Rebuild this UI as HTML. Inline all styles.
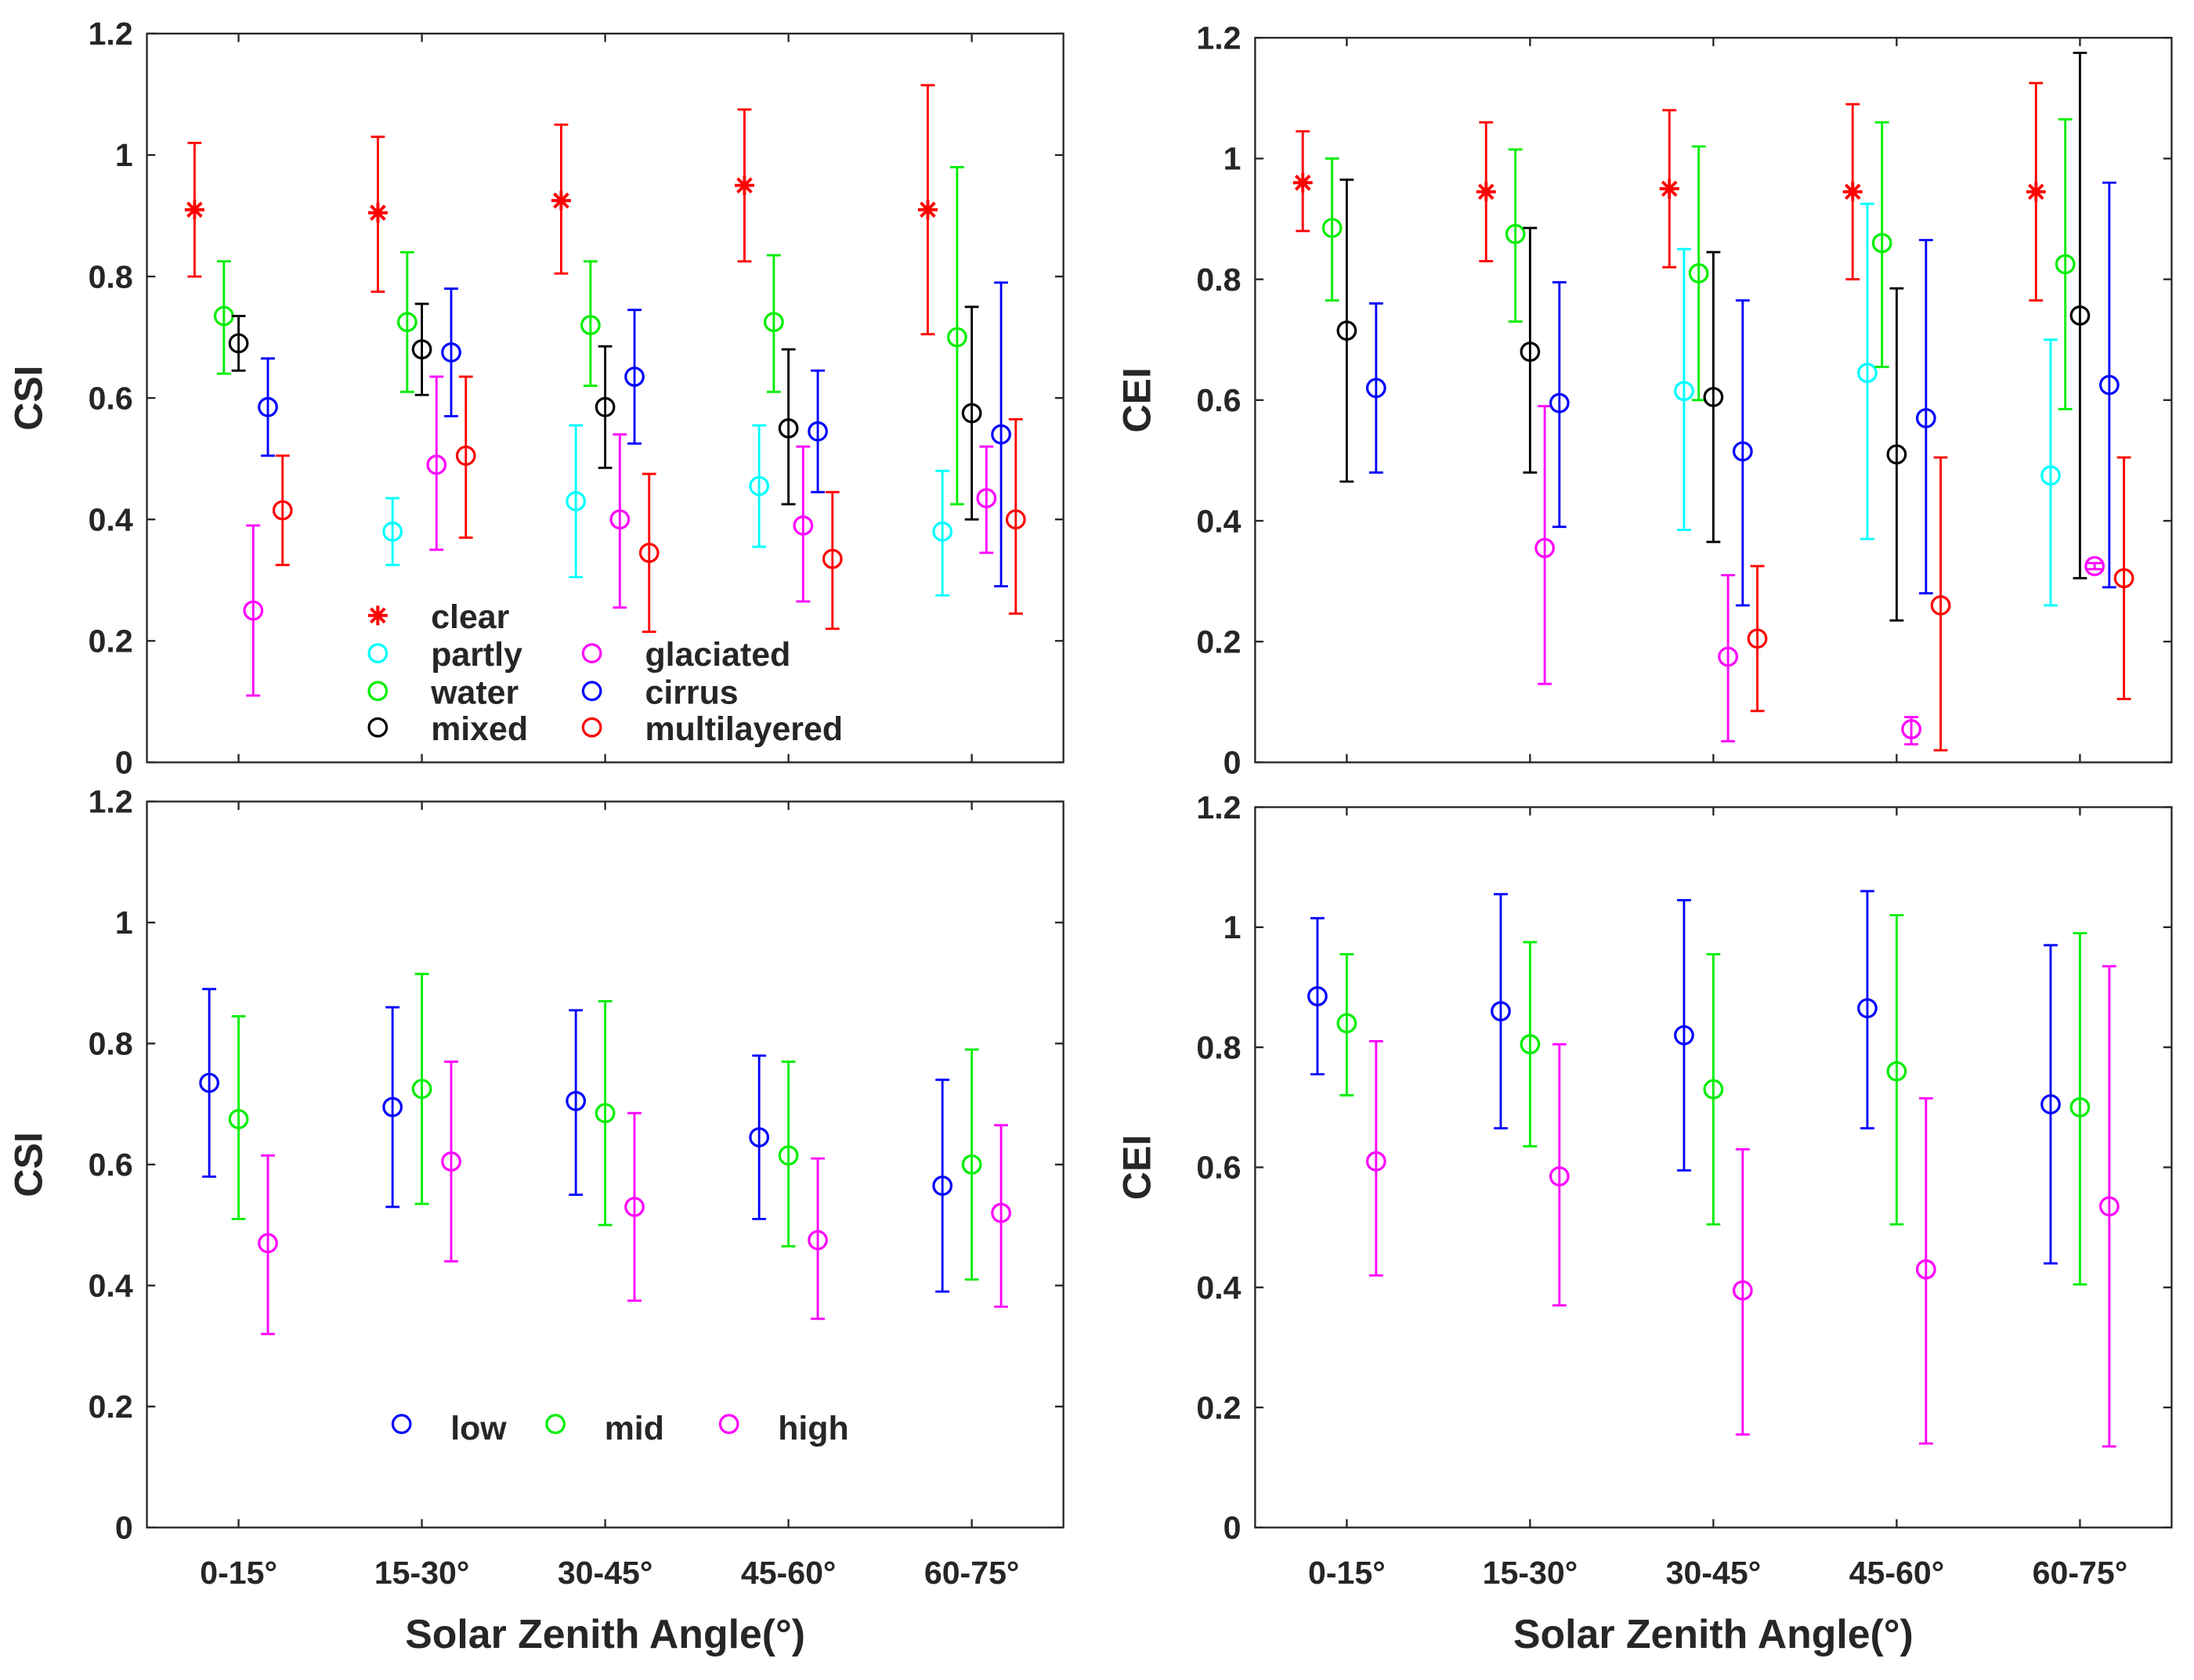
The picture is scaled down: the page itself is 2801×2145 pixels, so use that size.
<!DOCTYPE html>
<html><head><meta charset="utf-8"><style>
html,body{margin:0;padding:0;background:#fff}
svg{display:block}
text{font-family:"Liberation Sans",Arial,sans-serif;font-weight:bold;fill:#262626}
</style></head><body>
<svg id="fig" width="2801" height="2145" viewBox="0 0 1568 1201" preserveAspectRatio="none" xmlns="http://www.w3.org/2000/svg"></svg>
<script>
const categories=["0-15°","15-30°","30-45°","45-60°","60-75°"];
const yTicks=[0,0.2,0.4,0.6,0.8,1,1.2];
const yTickLabels=["0","0.2","0.4","0.6","0.8","1","1.2"];
const csiClear=[[0.91,0.80,1.02],[0.905,0.775,1.03],[0.925,0.805,1.05],[0.95,0.825,1.075],[0.91,0.705,1.115]];
const csiPartly=[null,[0.38,0.325,0.435],[0.43,0.305,0.555],[0.455,0.355,0.555],[0.38,0.275,0.48]];
const csiWater=[[0.735,0.64,0.825],[0.725,0.61,0.84],[0.72,0.62,0.825],[0.725,0.61,0.835],[0.70,0.425,0.98]];
const csiMixed=[[0.69,0.645,0.735],[0.68,0.605,0.755],[0.585,0.485,0.685],[0.55,0.425,0.68],[0.575,0.40,0.75]];
const csiGlaciated=[[0.25,0.11,0.39],[0.49,0.35,0.635],[0.40,0.255,0.54],[0.39,0.265,0.52],[0.435,0.345,0.52]];
const csiCirrus=[[0.585,0.505,0.665],[0.675,0.57,0.78],[0.635,0.525,0.745],[0.545,0.445,0.645],[0.54,0.29,0.79]];
const csiMulti=[[0.415,0.325,0.505],[0.505,0.37,0.635],[0.345,0.215,0.475],[0.335,0.22,0.445],[0.40,0.245,0.565]];
const ceiClear=[[0.96,0.88,1.045],[0.945,0.83,1.06],[0.95,0.82,1.08],[0.945,0.80,1.09],[0.945,0.765,1.125]];
const ceiPartly=[null,null,[0.615,0.385,0.85],[0.645,0.37,0.925],[0.475,0.26,0.70]];
const ceiWater=[[0.885,0.765,1.0],[0.875,0.73,1.015],[0.81,0.60,1.02],[0.86,0.655,1.06],[0.825,0.585,1.065]];
const ceiMixed=[[0.715,0.465,0.965],[0.68,0.48,0.885],[0.605,0.365,0.845],[0.51,0.235,0.785],[0.74,0.305,1.175]];
const ceiGlaciated=[null,[0.355,0.13,0.59],[0.175,0.035,0.31],[0.055,0.03,0.075],[0.325,0.32,0.33]];
const ceiCirrus=[[0.62,0.48,0.76],[0.595,0.39,0.795],[0.515,0.26,0.765],[0.57,0.28,0.865],[0.625,0.29,0.96]];
const ceiMulti=[null,null,[0.205,0.085,0.325],[0.26,0.02,0.505],[0.305,0.105,0.505]];
const csiLow=[[0.735,0.58,0.89],[0.695,0.53,0.86],[0.705,0.55,0.855],[0.645,0.51,0.78],[0.565,0.39,0.74]];
const csiMid=[[0.675,0.51,0.845],[0.725,0.535,0.915],[0.685,0.50,0.87],[0.615,0.465,0.77],[0.60,0.41,0.79]];
const csiHigh=[[0.47,0.32,0.615],[0.605,0.44,0.77],[0.53,0.375,0.685],[0.475,0.345,0.61],[0.52,0.365,0.665]];
const ceiLow=[[0.885,0.755,1.015],[0.86,0.665,1.055],[0.82,0.595,1.045],[0.865,0.665,1.06],[0.705,0.44,0.97]];
const ceiMid=[[0.84,0.72,0.955],[0.805,0.635,0.975],[0.73,0.505,0.955],[0.76,0.505,1.02],[0.70,0.405,0.99]];
const ceiHigh=[[0.61,0.42,0.81],[0.585,0.37,0.805],[0.395,0.155,0.63],[0.43,0.14,0.715],[0.535,0.135,0.935]];

const NS="http://www.w3.org/2000/svg";
const svg=document.getElementById('fig');
function mk(tag,attrs,parent){const e=document.createElementNS(NS,tag);for(const k in attrs)e.setAttribute(k,attrs[k]);(parent||svg).appendChild(e);return e;}
function txt(s,attrs,parent){const e=mk('text',attrs,parent);e.textContent=s;return e;}

const panels=[
 {name:'csi-type-panel',x0:105,x1:760,y0:24,y1:545,ylab:'CSI',xlabels:false},
 {name:'cei-type-panel',x0:897,x1:1552,y0:27,y1:545,ylab:'CEI',xlabels:false},
 {name:'csi-height-panel',x0:105,x1:760,y0:573,y1:1092,ylab:'CSI',xlabels:true},
 {name:'cei-height-panel',x0:897,x1:1552,y0:577,y1:1092,ylab:'CEI',xlabels:true}
];
panels.forEach(p=>{
 p.xs=c=>p.x0+(c+0.5)*(p.x1-p.x0)/5;
 p.ys=v=>p.y1-v/1.2*(p.y1-p.y0);
 const g=mk('g',{});
 
 
 p.g=g;
 const box=mk('rect',{x:p.x0,y:p.y0,width:p.x1-p.x0,height:p.y1-p.y0,fill:'none',stroke:'#262626','stroke-width':1.3},g);
 
 yTicks.forEach((t,i)=>{
  const y=p.ys(t);
  mk('line',{x1:p.x0,x2:p.x0+6,y1:y,y2:y,stroke:'#262626','stroke-width':1.3},g);
  mk('line',{x1:p.x1,x2:p.x1-6,y1:y,y2:y,stroke:'#262626','stroke-width':1.3},g);
  const l=txt(yTickLabels[i],{x:p.x0-10,y:y+8,'text-anchor':'end','font-size':23},g);
  
 });
 categories.forEach((c,i)=>{
  const x=p.xs(i);
  mk('line',{x1:x,x2:x,y1:p.y1,y2:p.y1-6,stroke:'#262626','stroke-width':1.3},g);
  mk('line',{x1:x,x2:x,y1:p.y0,y2:p.y0+6,stroke:'#262626','stroke-width':1.3},g);
  if(p.xlabels){const l=txt(c,{x:x,y:1132,'text-anchor':'middle','font-size':23},g);
   }
 });
 const cy=(p.y0+p.y1)/2, cx=p.x0===105?30:822;
 const yl=txt(p.ylab,{x:cx,y:cy,'text-anchor':'middle','font-size':28,transform:`rotate(-90 ${cx} ${cy})`},g);
 
 if(p.xlabels){const xl=txt('Solar Zenith Angle(°)',{x:(p.x0+p.x1)/2,y:1178,'text-anchor':'middle','font-size':29},g);
  }
});

function series(p,data,off,color,star,name){
 const g=mk('g',{},p.g);
 
 data.forEach((d,i)=>{
  if(!d)return;
  const x=p.xs(i+off), y=p.ys(d[0]), lo=p.ys(d[1]), hi=p.ys(d[2]);
  mk('line',{x1:x,x2:x,y1:lo,y2:hi,stroke:color,'stroke-width':1.6},g);
  mk('line',{x1:x-5,x2:x+5,y1:lo,y2:lo,stroke:color,'stroke-width':1.6},g);
  mk('line',{x1:x-5,x2:x+5,y1:hi,y2:hi,stroke:color,'stroke-width':1.6},g);
  drawMarker(g,x,y,color,star);
 });
}
function drawMarker(g,x,y,color,star){
 if(star){
  const r=7;
  mk('line',{x1:x-r,x2:x+r,y1:y,y2:y,stroke:color,'stroke-width':2.2},g);
  mk('line',{x1:x,x2:x,y1:y-r,y2:y+r,stroke:color,'stroke-width':2.2},g);
  mk('line',{x1:x-5,x2:x+5,y1:y-5,y2:y+5,stroke:color,'stroke-width':2.2},g);
  mk('line',{x1:x-5,x2:x+5,y1:y+5,y2:y-5,stroke:color,'stroke-width':2.2},g);
 } else mk('circle',{cx:x,cy:y,r:6.3,fill:'none',stroke:color,'stroke-width':1.8},g);
}
const s=0.08;
const C={red:'#ff0000',cyan:'#00ffff',green:'#00ee00',black:'#000000',mag:'#ff00ff',blue:'#0000ff'};
[[panels[0],[csiClear,csiPartly,csiWater,csiMixed,csiGlaciated,csiCirrus,csiMulti]],
 [panels[1],[ceiClear,ceiPartly,ceiWater,ceiMixed,ceiGlaciated,ceiCirrus,ceiMulti]]].forEach(([p,arr])=>{
 const offs=[-3*s,-2*s,-1*s,0,1*s,2*s,3*s];
 const cols=[C.red,C.cyan,C.green,C.black,C.mag,C.blue,C.red];
 const names=['clear-series','partly-series','water-series','mixed-series','glaciated-series','cirrus-series','multilayered-series'];
 arr.forEach((d,k)=>series(p,d,offs[k],cols[k],k===0,names[k]));
});
[[panels[2],[csiLow,csiMid,csiHigh]],[panels[3],[ceiLow,ceiMid,ceiHigh]]].forEach(([p,arr])=>{
 const offs=[-2*s,0,2*s], cols=[C.blue,C.green,C.mag], names=['low-series','mid-series','high-series'];
 arr.forEach((d,k)=>series(p,d,offs[k],cols[k],false,names[k]));
});
const lg=mk('g',{});

[['clear',270,440,C.red,true],['partly',270,467,C.cyan,false],['water',270,494,C.green,false],['mixed',270,520,C.black,false],
 ['glaciated',423,467,C.mag,false],['cirrus',423,494,C.blue,false],['multilayered',423,520,C.red,false]].forEach(e=>{
 const g=mk('g',{},lg);
 
 drawMarker(g,e[1],e[2],e[3],e[4]);
 txt(e[0],{x:e[1]+38,y:e[2]+9,'font-size':24},g);
});
const lg2=mk('g',{});

[['low',287,C.blue],['mid',397,C.green],['high',521,C.mag]].forEach(e=>{
 const g=mk('g',{},lg2);
 
 drawMarker(g,e[1],1018,e[2],false);
 txt(e[0],{x:e[1]+35,y:1029,'font-size':24},g);
});
</script>
</body></html>
